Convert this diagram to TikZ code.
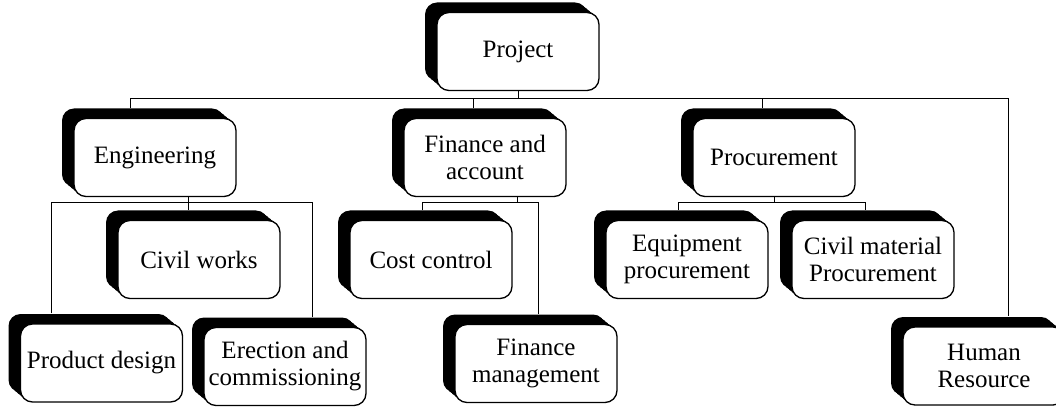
\documentclass[tikz,border=0pt]{standalone}
\usepackage{fontspec}
\setmainfont{Liberation Serif}
\usetikzlibrary{shadows}
\begin{document}
\begin{tikzpicture}[x=1pt, y=-1pt, line width=1pt,
    unit/.style = {draw, line width=1.3pt, fill=white, rounded corners=12pt,
        minimum width=162pt, minimum height=78pt, align=center, inner sep=2pt,
        font=\fontsize{25}{27}\selectfont,
        general shadow={fill=black, opacity=1, shadow xshift=-3pt, shadow yshift=2.5pt},
        general shadow={fill=black, opacity=1, shadow xshift=-6pt, shadow yshift=5pt},
        general shadow={fill=black, opacity=1, shadow xshift=-9pt, shadow yshift=7.5pt},
        general shadow={fill=black, opacity=1, shadow xshift=-12pt, shadow yshift=10pt}}]
    \useasboundingbox (0,0) rectangle (1056,411);
    \coordinate (lvl1) at (0,99);
    \coordinate (lvl2) at (0,203);
    \node[unit] (proj) at (518,51.5) {Project};
    \node[unit] (eng) at (155,157.5) {Engineering};
    \node[unit] (fin) at (485,157.5) {Finance and\\account};
    \node[unit] (proc) at (774,157.5) {Procurement};
    \node[unit] (civ) at (199,259.5) {Civil works};
    \node[unit] (cost) at (431,259.5) {Cost control};
    \node[unit] (equip) at (687,259.5) {Equipment\\procurement};
    \node[unit] (cmat) at (873,259.5) {Civil material\\Procurement};
    \node[unit] (prod) at (101.5,363) {Product design};
    \node[unit] (erec) at (285,366.5) {Erection and\\commissioning};
    \node[unit] (fman) at (536,363.5) {Finance\\management};
    \node[unit] (hr) at (984,366) {Human\\Resource};
    % top level
    \draw (proj.south) -- (proj.south |- lvl1);
    \draw ([xshift=-25pt,yshift=10pt]eng.north) -- ([xshift=-25pt]eng.north |- lvl1)
        -| ([xshift=24pt,yshift=10pt]hr.north);
    \draw ([xshift=-12pt,yshift=10pt]fin.north) -- ([xshift=-12pt]fin.north |- lvl1);
    \draw ([xshift=-12pt,yshift=10pt]proc.north) -- ([xshift=-12pt]proc.north |- lvl1);
    % engineering
    \draw ([xshift=33pt]eng.south) -- ([xshift=-11pt,yshift=10pt]civ.north);
    \draw ([xshift=-50pt,yshift=10pt]prod.north) -- ([xshift=-50pt]prod.north |- lvl2)
        -| ([xshift=27pt,yshift=10pt]erec.north);
    % finance
    \draw ([xshift=32pt]fin.south) -- ([xshift=32pt]fin.south |- lvl2);
    \draw ([xshift=-9pt,yshift=10pt]cost.north) -- ([xshift=-9pt]cost.north |- lvl2)
        -| ([xshift=2pt,yshift=10pt]fman.north);
    % procurement
    \draw (proc.south) -- (proc.south |- lvl2);
    \draw ([xshift=-9pt,yshift=10pt]equip.north) -- ([xshift=-9pt]equip.north |- lvl2)
        -| ([xshift=-8pt,yshift=10pt]cmat.north);
\end{tikzpicture}
\end{document}
